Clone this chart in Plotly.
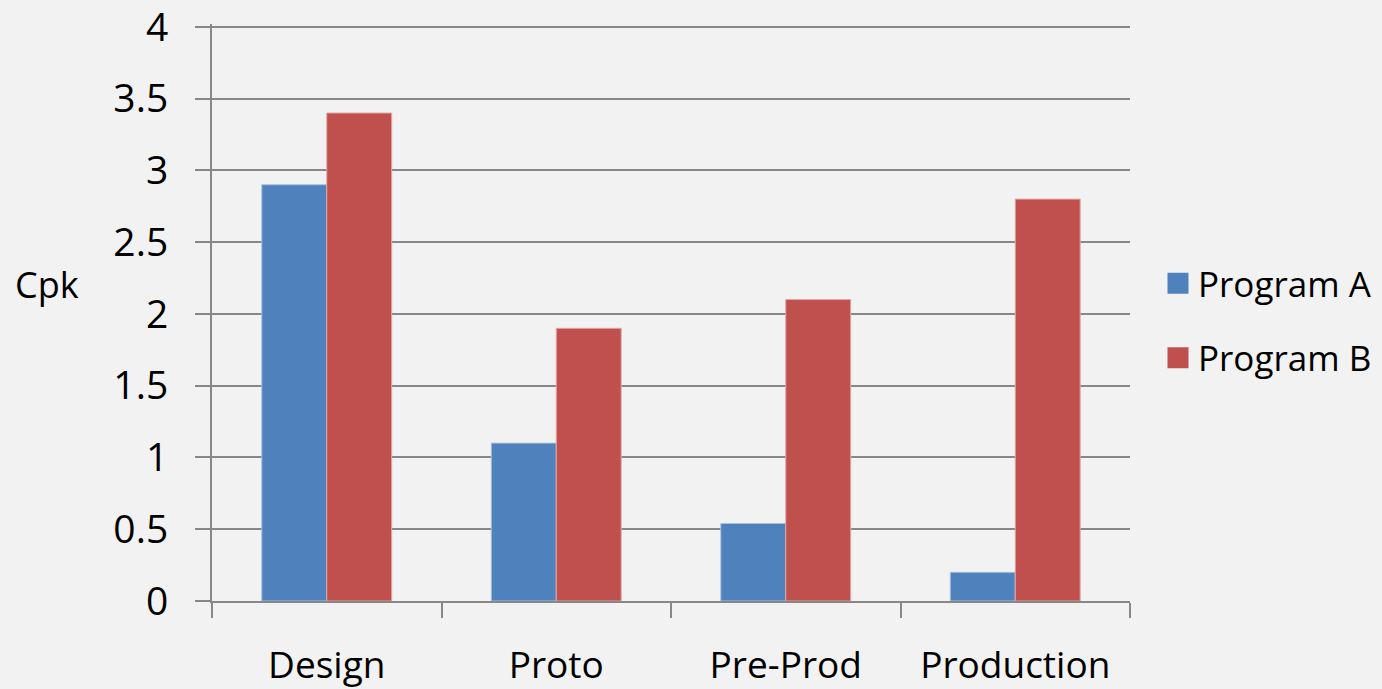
import plotly.graph_objects as go

# Cpk by development phase for two programs
phases = ["Design", "Proto", "Pre-Prod", "Production"]
program_a = [2.9, 1.1, 0.54, 0.2]
program_b = [3.4, 1.9, 2.1, 2.8]
series_names = ["Program A", "Program B"]
y_ticks = [0, 0.5, 1, 1.5, 2, 2.5, 3, 3.5, 4]

BLUE = "#4F81BD"
RED = "#C0504D"
GRID = "#878787"
BG = "#F2F2F2"
FONT = "Open Sans"

fig = go.Figure()
fig.add_trace(go.Bar(
    x=phases, y=program_a, name=series_names[0],
    marker=dict(color=BLUE, line=dict(color="#A9C0DE", width=1)),
    showlegend=False,
))
fig.add_trace(go.Bar(
    x=phases, y=program_b, name=series_names[1],
    marker=dict(color=RED, line=dict(color="#DFA8A6", width=1)),
    showlegend=False,
))

# legend keys: large square swatches for each series
for name, color, grp in [(series_names[0], BLUE, "a"), (series_names[1], RED, "b")]:
    fig.add_trace(go.Scatter(
        x=[None], y=[None], mode="markers", name=name, legendgroup=grp,
        marker=dict(symbol="square", size=16, color=color,
                    line=dict(color=color, width=5)),
    ))

fig.update_layout(
    width=1382, height=689,
    margin=dict(l=212, r=252, t=24, b=88),
    paper_bgcolor=BG, plot_bgcolor=BG,
    font=dict(family=FONT, color="black"),
    barmode="group", bargap=0.434, bargroupgap=0,
    showlegend=True,
    legend=dict(
        xref="container", yref="container",
        x=1158 / 1382, y=1 - 254 / 689,
        xanchor="left", yanchor="top",
        font=dict(size=35, family=FONT, color="black"),
        bgcolor="rgba(0,0,0,0)",
        traceorder="grouped", tracegroupgap=26,
        itemwidth=30,
    ),
    annotations=[dict(
        text="Cpk", xref="paper", yref="paper",
        x=-212 / 918 + 13 / 918, y=(601 - 284) / 577,
        xanchor="left", yanchor="middle", showarrow=False,
        font=dict(size=36, family=FONT, color="black"),
    )],
)

fig.update_xaxes(
    type="category", automargin=False,
    showline=True, linecolor=GRID, linewidth=2,
    ticks="outside", tickson="boundaries", ticklen=15, tickwidth=2, tickcolor=GRID,
    showgrid=False,
    tickfont=dict(size=37, family=FONT, color="black"),
    ticklabelstandoff=31, ticklabeloverflow="allow",
)
fig.update_yaxes(
    range=[0, 4.02], tickvals=y_ticks, automargin=False,
    showline=True, linecolor=GRID, linewidth=2,
    showgrid=True, gridcolor=GRID, gridwidth=2,
    zeroline=False,
    ticks="outside", ticklen=15, tickwidth=2, tickcolor=GRID,
    tickfont=dict(size=39, family=FONT, color="black"),
    ticklabelstandoff=19, ticklabeloverflow="allow",
)

fig.write_html("out.html")
